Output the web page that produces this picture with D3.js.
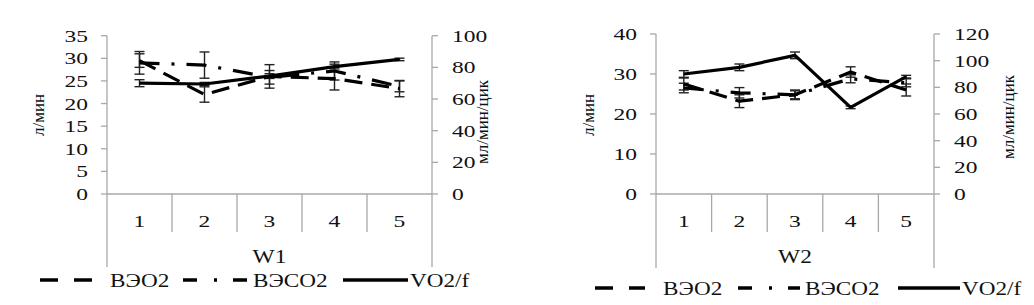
<!DOCTYPE html>
<html><head><meta charset="utf-8">
<script src="https://cdn.jsdelivr.net/npm/d3@7"></script>
<style>
body{margin:0;background:#fff;}
text{font-family:"Liberation Serif","Times New Roman",serif;fill:#111;}
</style></head>
<body><svg id="c" width="1034" height="305"></svg>
<script>
const categories = ["1","2","3","4","5"];
const seriesNames = ["ВЭО2","ВЭСО2","VO2/f"];
// W1
const w1_veo2 = [29.5, 22.0, 26.0, 25.5, 23.3];
const w1_veo2_err = [1.5, 1.7, 2.6, 2.5, 1.8];
const w1_veco2 = [29.0, 28.5, 25.8, 27.2, 23.8];
const w1_veco2_err = [2.5, 2.9, 1.5, 2.0, 1.2];
const w1_vo2f = [70, 69.5, 74.5, 80.5, 85];
const w1_vo2f_err = [2.2, 1.0, 1.5, 1.5, 0.8];
// W2
const w2_veo2 = [27.5, 23.2, 24.8, 30.5, 26.0];
const w2_veo2_err = [1.5, 1.6, 1.2, 1.3, 1.5];
const w2_veco2 = [26.5, 25.3, 24.8, 28.8, 27.8];
const w2_veco2_err = [1.2, 1.3, 1.0, 1.0, 1.0];
const w2_vo2f = [90, 95, 104, 65, 88];
const w2_vo2f_err = [2.5, 2.5, 2.5, 1.0, 1.0];
const w1_leftTicks = [0,5,10,15,20,25,30,35];
const w1_rightTicks = [0,20,40,60,80,100];
const w2_leftTicks = [0,10,20,30,40];
const w2_rightTicks = [0,20,40,60,80,100,120];

const svg = d3.select("#c");
const STRETCH = 1.38;
function stretch(sel, f){
  sel.each(function(){ const L=this.getComputedTextLength(); d3.select(this).attr("textLength", L*(f||STRETCH)).attr("lengthAdjust","spacingAndGlyphs"); });
}
const dashes = {"ВЭО2":"18,9","ВЭСО2":"20,12,3,12","VO2/f":null};
const legDashes = {"ВЭО2":"18,16","ВЭСО2":"14,17,3,16","VO2/f":null};

function chart(cfg){
  const g = svg.append("g");
  const x = d3.scaleBand().domain(categories).range([cfg.x0,cfg.x1]);
  const yL = d3.scaleLinear().domain([0,cfg.leftTicks[cfg.leftTicks.length-1]]).range([cfg.yBot,cfg.yTop]);
  const yR = d3.scaleLinear().domain([0,cfg.rightTicks[cfg.rightTicks.length-1]]).range([cfg.yBot,cfg.yTop]);
  const axisCol = "#a8a8a8";
  g.append("line").attr("x1",cfg.x0).attr("x2",cfg.x0).attr("y1",cfg.yTop).attr("y2",cfg.frameBot).attr("stroke",axisCol).attr("stroke-width",1.3);
  g.append("line").attr("x1",cfg.x1).attr("x2",cfg.x1).attr("y1",cfg.yTop).attr("y2",cfg.frameBot).attr("stroke",axisCol).attr("stroke-width",1.3);
  g.append("line").attr("x1",cfg.x0).attr("x2",cfg.x1).attr("y1",cfg.yBot).attr("y2",cfg.yBot).attr("stroke",axisCol).attr("stroke-width",1.3);
  categories.slice(1).forEach(c=>{
    g.append("line").attr("x1",x(c)).attr("x2",x(c)).attr("y1",cfg.yBot).attr("y2",cfg.divBot).attr("stroke",axisCol).attr("stroke-width",1.3);
  });
  cfg.leftTicks.forEach(t=>{
    g.append("line").attr("x1",cfg.x0-6).attr("x2",cfg.x0).attr("y1",yL(t)).attr("y2",yL(t)).attr("stroke",axisCol).attr("stroke-width",1.3);
    const tx=g.append("text").attr("x",cfg.x0-19).attr("y",yL(t)+6).attr("text-anchor","end").attr("font-size",17).text(t);
    stretch(tx);
  });
  cfg.rightTicks.forEach(t=>{
    g.append("line").attr("x1",cfg.x1).attr("x2",cfg.x1+6).attr("y1",yR(t)).attr("y2",yR(t)).attr("stroke",axisCol).attr("stroke-width",1.3);
    const tx=g.append("text").attr("x",cfg.x1+20).attr("y",yR(t)+6).attr("text-anchor","start").attr("font-size",17).text(t);
    stretch(tx);
  });
  categories.forEach(c=>{
    const tx=g.append("text").attr("x",x(c)+x.bandwidth()/2).attr("y",cfg.catY).attr("text-anchor","middle").attr("font-size",17).text(c);
    stretch(tx);
  });
  const tt=g.append("text").attr("x",(cfg.x0+cfg.x1)/2).attr("y",cfg.titleY).attr("text-anchor","middle").attr("font-size",18).text(cfg.title);
  stretch(tt,1.3);
  g.append("text").attr("transform",`translate(${cfg.lt[0]},${cfg.lt[1]}) rotate(-90)`).attr("text-anchor","middle").attr("font-size",17).text("л/мин");
  g.append("text").attr("transform",`translate(${cfg.rt[0]},${cfg.rt[1]}) rotate(-90)`).attr("text-anchor","middle").attr("font-size",17).text("мл/мин/цик");
  const series = [
    {name:"ВЭО2", v:cfg.veo2, e:cfg.veo2e, y:yL},
    {name:"ВЭСО2", v:cfg.veco2, e:cfg.veco2e, y:yL},
    {name:"VO2/f", v:cfg.vo2f, e:cfg.vo2fe, y:yR}
  ];
  const cx = c=>x(c)+x.bandwidth()/2;
  series.forEach(s=>{
    s.v.forEach((v,i)=>{
      const c=categories[i], xc=cx(c);
      g.append("line").attr("x1",xc).attr("x2",xc).attr("y1",s.y(v-s.e[i])).attr("y2",s.y(v+s.e[i])).attr("stroke","#222").attr("stroke-width",1.4);
      [v-s.e[i],v+s.e[i]].forEach(w=>g.append("line").attr("x1",xc-5).attr("x2",xc+5).attr("y1",s.y(w)).attr("y2",s.y(w)).attr("stroke","#222").attr("stroke-width",1.4));
    });
  });
  series.forEach(s=>{
    const line=d3.line().x((d,i)=>cx(categories[i])).y(d=>s.y(d));
    g.append("path").attr("d",line(s.v)).attr("fill","none").attr("stroke","#000").attr("stroke-width",3.2)
      .attr("stroke-dasharray",dashes[s.name]).attr("stroke-linejoin","round");
  });
  cfg.legend.forEach((it,i)=>{
    const name=seriesNames[i];
    g.append("line").attr("x1",it[0]).attr("x2",it[1]).attr("y1",cfg.legY).attr("y2",cfg.legY).attr("stroke","#000").attr("stroke-width",3.6).attr("stroke-dasharray",legDashes[name]);
    const tx=g.append("text").attr("x",it[2]).attr("y",cfg.legY+7).attr("font-size",19).text(name);
    stretch(tx,1.22);
  });
}

chart({x0:107,x1:432,yTop:35.7,yBot:194,frameBot:267,divBot:232,catY:227,titleY:263,title:"W1",
  leftTicks:w1_leftTicks,rightTicks:w1_rightTicks,lt:[44,115],rt:[488,122],
  veo2:w1_veo2,veo2e:w1_veo2_err,veco2:w1_veco2,veco2e:w1_veco2_err,vo2f:w1_vo2f,vo2fe:w1_vo2f_err,
  legY:280,legend:[[40,92,110],[183,247,253],[343,408,410]]});
chart({x0:656,x1:934,yTop:34,yBot:194,frameBot:268,divBot:232,catY:227,titleY:263,title:"W2",
  leftTicks:w2_leftTicks,rightTicks:w2_rightTicks,lt:[594,115],rt:[1014,117],
  veo2:w2_veo2,veo2e:w2_veo2_err,veco2:w2_veco2,veco2e:w2_veco2_err,vo2f:w2_vo2f,vo2fe:w2_vo2f_err,
  legY:288,legend:[[595,645,663],[738,800,805],[898,960,962]]});
</script></body></html>
